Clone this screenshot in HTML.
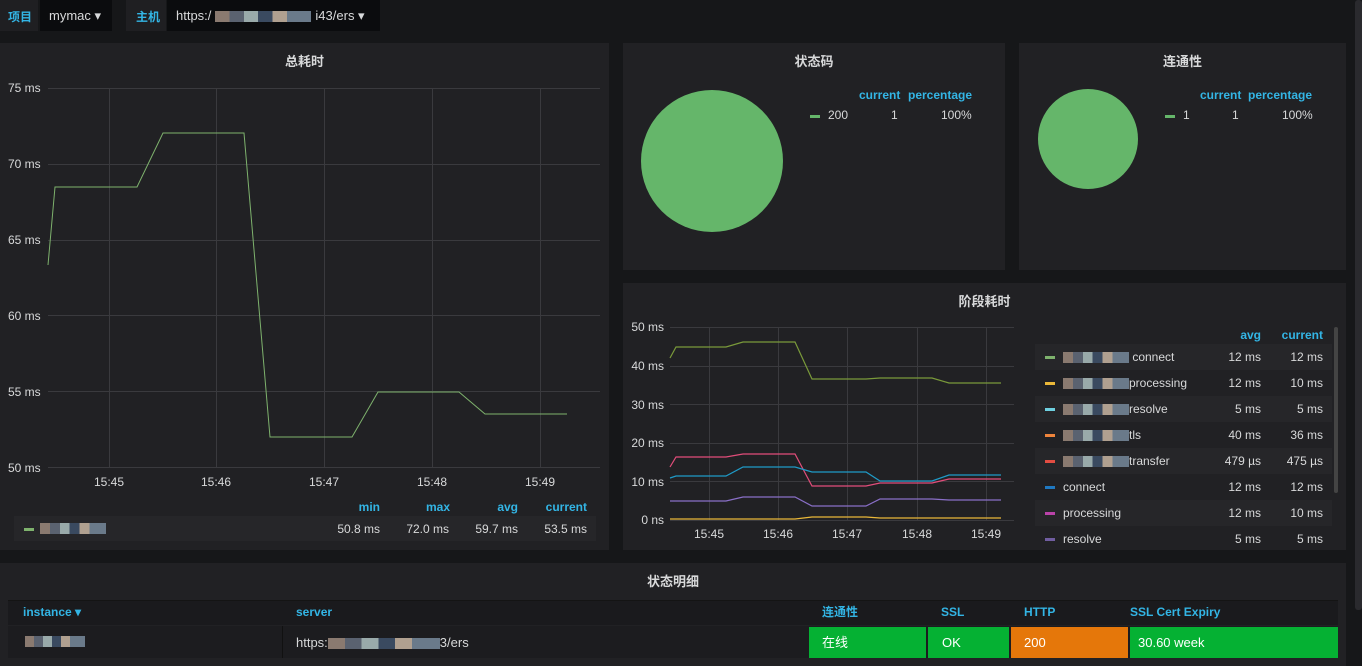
<!DOCTYPE html>
<html><head><meta charset="utf-8"><style>
body{margin:0;width:1362px;height:666px;background:#161719;font-family:"Liberation Sans","Noto Sans CJK SC",sans-serif;color:#d8d9da;position:relative;overflow:hidden;font-size:12px}
.a{position:absolute}
.p{position:absolute;background:#212124}
.t{position:absolute;left:0;right:0;text-align:center;font-size:13px;font-weight:bold;color:#d8d9da}
.b{color:#33b5e5;font-weight:bold}
.r{text-align:right}
.blur{display:inline-block;height:11px;background:linear-gradient(90deg,#8a7a70 0 15%,#5a6270 15% 30%,#9aa 30% 45%,#3a4a60 45% 60%,#b0a090 60% 75%,#6a7a8a 75%);vertical-align:middle}
</style></head><body>
<div class="a" style="left:0;top:0;width:38px;height:31px;background:#1f1f22"></div>
<div class="a b" style="left:8px;top:8px;color:#33b5e5">项目</div>
<div class="a" style="left:40px;top:0;width:72px;height:31px;background:#0b0c0e"></div>
<div class="a" style="left:49px;top:8px;font-size:13px">mymac ▾</div>
<div class="a" style="left:126px;top:0;width:40px;height:31px;background:#1f1f22"></div>
<div class="a b" style="left:136px;top:8px">主机</div>
<div class="a" style="left:167px;top:0;width:213px;height:31px;background:#0b0c0e"></div>
<div class="a" style="left:176px;top:8px;font-size:13px">https:/<span class="blur" style="width:96px;margin:0 4px"></span>i43/ers ▾</div>

<div class="p" style="left:0;top:43px;width:609px;height:507px"><div class="t" style="top:8px">总耗时</div></div>
<div class="p" style="left:623px;top:43px;width:382px;height:227px"><div class="t" style="top:8px">状态码</div></div>
<div class="p" style="left:1019px;top:43px;width:327px;height:227px"><div class="t" style="top:8px">连通性</div></div>
<div class="p" style="left:623px;top:283px;width:723px;height:267px"><div class="t" style="top:8px">阶段耗时</div></div>
<div class="p" style="left:0;top:563px;width:1346px;height:103px"><div class="t" style="top:8px">状态明细</div></div>
<div class="a" style="left:1355px;top:0;width:7px;height:610px;background:#2a2a2e;border-radius:3px"></div>

<svg class="a" style="left:0;top:0" width="1362" height="666" font-family="Liberation Sans" font-size="12">
<g stroke="#3a3a3e" stroke-width="1">
<line x1="48" x2="600" y1="88.5" y2="88.5"/><line x1="48" x2="600" y1="164.5" y2="164.5"/><line x1="48" x2="600" y1="240.5" y2="240.5"/><line x1="48" x2="600" y1="315.5" y2="315.5"/><line x1="48" x2="600" y1="391.5" y2="391.5"/><line x1="48" x2="600" y1="467.5" y2="467.5"/>
<line x1="109.5" x2="109.5" y1="88" y2="467"/><line x1="216.5" x2="216.5" y1="88" y2="467"/><line x1="324.5" x2="324.5" y1="88" y2="467"/><line x1="432.5" x2="432.5" y1="88" y2="467"/><line x1="540.5" x2="540.5" y1="88" y2="467"/>
<line x1="670" x2="1014" y1="327.5" y2="327.5"/><line x1="670" x2="1014" y1="366.5" y2="366.5"/><line x1="670" x2="1014" y1="404.5" y2="404.5"/><line x1="670" x2="1014" y1="443.5" y2="443.5"/><line x1="670" x2="1014" y1="481.5" y2="481.5"/><line x1="670" x2="1014" y1="520.5" y2="520.5"/>
<line x1="709.5" x2="709.5" y1="327" y2="520"/><line x1="778.5" x2="778.5" y1="327" y2="520"/><line x1="847.5" x2="847.5" y1="327" y2="520"/><line x1="917.5" x2="917.5" y1="327" y2="520"/><line x1="986.5" x2="986.5" y1="327" y2="520"/>
</g>
<g fill="#d8d9da">
<text x="8" y="92">75 ms</text><text x="8" y="168">70 ms</text><text x="8" y="244">65 ms</text><text x="8" y="320">60 ms</text><text x="8" y="396">55 ms</text><text x="8" y="472">50 ms</text>
<text x="109" y="486" text-anchor="middle">15:45</text><text x="216" y="486" text-anchor="middle">15:46</text><text x="324" y="486" text-anchor="middle">15:47</text><text x="432" y="486" text-anchor="middle">15:48</text><text x="540" y="486" text-anchor="middle">15:49</text>
<text x="664" y="331" text-anchor="end">50 ms</text><text x="664" y="370" text-anchor="end">40 ms</text><text x="664" y="409" text-anchor="end">30 ms</text><text x="664" y="447" text-anchor="end">20 ms</text><text x="664" y="486" text-anchor="end">10 ms</text><text x="664" y="524" text-anchor="end">0 ns</text>
<text x="709" y="538" text-anchor="middle">15:45</text><text x="778" y="538" text-anchor="middle">15:46</text><text x="847" y="538" text-anchor="middle">15:47</text><text x="917" y="538" text-anchor="middle">15:48</text><text x="986" y="538" text-anchor="middle">15:49</text>
</g>
<polyline fill="none" stroke="#7eb26d" stroke-width="1" points="48,265 55,187 137,187 163,133 244,133 270,437 352,437 378,392 459,392 485,414 567,414"/>
<g fill="none" stroke-width="1.2">
<polyline stroke="#7a9a3a" points="670,358 676,347 726,347 743,342 795,342 812,379 866,379 880,378 932,378 949,383 1001,383"/>
<polyline stroke="#e24d7a" points="670,467 676,457 726,457 743,454 795,454 812,486 866,486 880,483 932,483 949,479 1001,479"/>
<polyline stroke="#1f9bc8" points="670,478 676,476 726,476 743,467 795,467 812,472 866,472 880,481 932,481 949,475 1001,475"/>
<polyline stroke="#8a6fc8" points="670,501 726,501 743,497 795,497 812,506 866,506 880,499 932,499 949,500 1001,500"/>
<polyline stroke="#eab839" points="670,519 795,519 812,517 866,517 880,518 1001,518"/>
</g>
<circle cx="712" cy="161" r="71" fill="#65b66a"/>
<circle cx="1088" cy="139" r="50" fill="#65b66a"/>
</svg>

<div class="a b" style="left:340px;top:500px;width:40px" ><span style="float:right">min</span></div>
<div class="a b r" style="left:400px;top:500px;width:50px">max</div>
<div class="a b r" style="left:468px;top:500px;width:50px">avg</div>
<div class="a b r" style="left:537px;top:500px;width:50px">current</div>
<div class="a" style="left:14px;top:516px;width:582px;height:25px;background:#262629"></div>
<div class="a" style="left:24px;top:528px;width:10px;height:3px;background:#7eb26d"></div>
<div class="a blur" style="left:40px;top:523px;width:66px"></div>
<div class="a r" style="left:320px;top:522px;width:60px">50.8 ms</div>
<div class="a r" style="left:389px;top:522px;width:60px">72.0 ms</div>
<div class="a r" style="left:458px;top:522px;width:60px">59.7 ms</div>
<div class="a r" style="left:527px;top:522px;width:60px">53.5 ms</div>

<div class="a b" style="left:859px;top:88px">current</div><div class="a b" style="left:908px;top:88px">percentage</div>
<div class="a" style="left:810px;top:115px;width:10px;height:3px;background:#65b66a"></div>
<div class="a" style="left:828px;top:108px">200</div><div class="a" style="left:891px;top:108px">1</div><div class="a" style="left:941px;top:108px">100%</div>
<div class="a b" style="left:1200px;top:88px">current</div><div class="a b" style="left:1248px;top:88px">percentage</div>
<div class="a" style="left:1165px;top:115px;width:10px;height:3px;background:#65b66a"></div>
<div class="a" style="left:1183px;top:108px">1</div><div class="a" style="left:1232px;top:108px">1</div><div class="a" style="left:1282px;top:108px">100%</div>

<div class="a b r" style="left:1211px;top:328px;width:50px">avg</div>
<div class="a b r" style="left:1273px;top:328px;width:50px">current</div>
<div class="a" style="left:1334px;top:327px;width:4px;height:166px;background:#444;border-radius:2px"></div>
<div class="a" style="left:1035px;top:344px;width:297px;height:210px">
<div style="position:absolute;top:0;left:0;right:0;height:26px;background:#262629"></div>
<div style="position:absolute;top:52px;left:0;right:0;height:26px;background:#262629"></div>
<div style="position:absolute;top:104px;left:0;right:0;height:26px;background:#262629"></div>
<div style="position:absolute;top:156px;left:0;right:0;height:26px;background:#262629"></div>
</div>
<div class="a" style="left:1045px;top:344px;width:300px;line-height:26px">
<div style="position:relative;height:26px"><i style="position:absolute;left:0;top:12px;width:10px;height:3px;background:#7eb26d"></i><span class="blur" style="margin-left:18px;width:66px"></span> connect<span style="position:absolute;left:160px;width:56px;text-align:right">12 ms</span><span style="position:absolute;left:222px;width:56px;text-align:right">12 ms</span></div>
<div style="position:relative;height:26px"><i style="position:absolute;left:0;top:12px;width:10px;height:3px;background:#eab839"></i><span class="blur" style="margin-left:18px;width:66px"></span>processing<span style="position:absolute;left:160px;width:56px;text-align:right">12 ms</span><span style="position:absolute;left:222px;width:56px;text-align:right">10 ms</span></div>
<div style="position:relative;height:26px"><i style="position:absolute;left:0;top:12px;width:10px;height:3px;background:#6ed0e0"></i><span class="blur" style="margin-left:18px;width:66px"></span>resolve<span style="position:absolute;left:160px;width:56px;text-align:right">5 ms</span><span style="position:absolute;left:222px;width:56px;text-align:right">5 ms</span></div>
<div style="position:relative;height:26px"><i style="position:absolute;left:0;top:12px;width:10px;height:3px;background:#ef843c"></i><span class="blur" style="margin-left:18px;width:66px"></span>tls<span style="position:absolute;left:160px;width:56px;text-align:right">40 ms</span><span style="position:absolute;left:222px;width:56px;text-align:right">36 ms</span></div>
<div style="position:relative;height:26px"><i style="position:absolute;left:0;top:12px;width:10px;height:3px;background:#e24d42"></i><span class="blur" style="margin-left:18px;width:66px"></span>transfer<span style="position:absolute;left:160px;width:56px;text-align:right">479 µs</span><span style="position:absolute;left:222px;width:56px;text-align:right">475 µs</span></div>
<div style="position:relative;height:26px"><i style="position:absolute;left:0;top:12px;width:10px;height:3px;background:#1f78c1"></i><span style="margin-left:18px">connect</span><span style="position:absolute;left:160px;width:56px;text-align:right">12 ms</span><span style="position:absolute;left:222px;width:56px;text-align:right">12 ms</span></div>
<div style="position:relative;height:26px"><i style="position:absolute;left:0;top:12px;width:10px;height:3px;background:#ba43a9"></i><span style="margin-left:18px">processing</span><span style="position:absolute;left:160px;width:56px;text-align:right">12 ms</span><span style="position:absolute;left:222px;width:56px;text-align:right">10 ms</span></div>
<div style="position:relative;height:26px"><i style="position:absolute;left:0;top:12px;width:10px;height:3px;background:#705da0"></i><span style="margin-left:18px">resolve</span><span style="position:absolute;left:160px;width:56px;text-align:right">5 ms</span><span style="position:absolute;left:222px;width:56px;text-align:right">5 ms</span></div>
</div>

<div class="a" style="left:8px;top:600px;width:1330px;height:24px;background:#1a1a1d;border-top:1px solid #141414"></div>
<div class="a b" style="left:23px;top:605px">instance ▾</div>
<div class="a b" style="left:296px;top:605px">server</div>
<div class="a b" style="left:822px;top:603px">连通性</div>
<div class="a b" style="left:941px;top:605px">SSL</div>
<div class="a b" style="left:1024px;top:605px">HTTP</div>
<div class="a b" style="left:1130px;top:605px">SSL Cert Expiry</div>
<div class="a" style="left:8px;top:626px;width:1330px;height:32px;background:#1c1c1f"></div>
<div class="a" style="left:282px;top:626px;width:1px;height:32px;background:#111"></div>
<div class="a blur" style="left:25px;top:636px;width:60px"></div>
<div class="a" style="left:296px;top:635px;font-size:13px">https:<span class="blur" style="width:112px"></span>3/ers</div>
<div class="a" style="left:809px;top:627px;width:117px;height:31px;background:#05b133"></div>
<div class="a" style="left:928px;top:627px;width:81px;height:31px;background:#05b133"></div>
<div class="a" style="left:1011px;top:627px;width:117px;height:31px;background:#e5770a"></div>
<div class="a" style="left:1130px;top:627px;width:208px;height:31px;background:#05b133"></div>
<div class="a" style="left:822px;top:632px;font-size:13px;color:#fff">在线</div>
<div class="a" style="left:942px;top:635px;font-size:13px;color:#fff">OK</div>
<div class="a" style="left:1024px;top:635px;font-size:13px;color:#fff">200</div>
<div class="a" style="left:1138px;top:635px;font-size:13px;color:#fff">30.60 week</div>
</body></html>
